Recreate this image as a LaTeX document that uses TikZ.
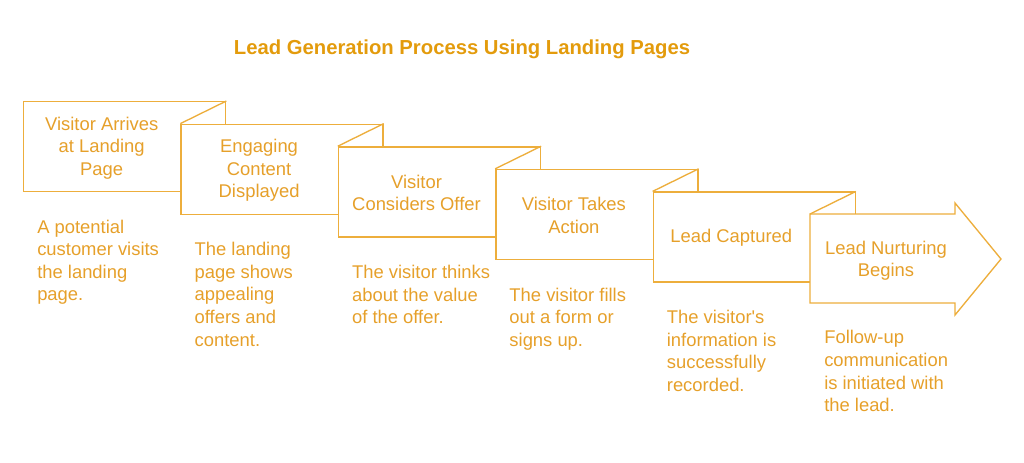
\documentclass[tikz,border=0pt]{standalone}
\usepackage{fontspec}
\setmainfont{Liberation Sans}
\usepackage{tikz}
\usetikzlibrary{positioning}
\definecolor{leadline}{HTML}{EDAE3C}
\definecolor{leadtext}{HTML}{E6A02A}
\definecolor{leadtitle}{HTML}{E39B0C}

\begin{document}
\begin{tikzpicture}[x=0.75pt,y=-0.75pt,
  stepbox/.style={draw=leadline,line width=1pt,fill=white,minimum width=151.5pt,minimum height=67.5pt,inner sep=0pt,anchor=north west},
  boxtext/.style={text=leadtext,align=center,font=\fontsize{13.8}{16.9}\selectfont},
  desctext/.style={text=leadtext,align=left,inner sep=0pt,font=\fontsize{13.8}{16.9}\selectfont}]
\useasboundingbox (0,0) rectangle (1024,462);
\node[text=leadtitle,font=\bfseries\fontsize{15.2}{18}\selectfont] (title) at (462,49) {Lead Generation Process Using Landing Pages};
% the steps
\node[stepbox] (b1) at (23,101) {};
\node[stepbox] (b2) at (180.4,123.6) {};
\node[stepbox] (b3) at (337.8,146.2) {};
\node[stepbox] (b4) at (495.2,168.8) {};
\node[stepbox] (b5) at (652.6,191.4) {};
\coordinate (b6) at (810,214);
\coordinate (b6s) at (810,303);
\draw[leadline,line width=1pt,fill=white](b6)--(955,214)--(955,203)--(1001,259)--(955,315)--(955,303)--(b6s)--cycle;
\foreach \i/\j in {1/2,2/3,3/4,4/5}
  \draw[leadline,line width=1pt](b\i.north east)--(b\j.north west);
\draw[leadline,line width=1pt](b5.north east)--(b6);
% step titles
\node[boxtext] (t1) at (101.7,148) {Visitor Arrives\\at Landing\\Page};
\node[boxtext] (t2) at (259.1,170.6) {Engaging\\Content\\Displayed};
\node[boxtext] (t3) at (416.5,193) {Visitor\\Considers Offer};
\node[boxtext] (t4) at (573.9,215.6) {Visitor Takes\\Action};
\node[boxtext] (t5) at (731.3,238) {Lead Captured};
\node[boxtext] (t6) at (886,260.8) {Lead Nurturing\\Begins};
% descriptions
\node[desctext,below right=20.5pt and 10.5pt of b1.south west] (d1) {A potential\\customer visits\\the landing\\page.};
\node[desctext,below right=20.5pt and 10.5pt of b2.south west] (d2) {The landing\\page shows\\appealing\\offers and\\content.};
\node[desctext,below right=20.5pt and 10.5pt of b3.south west] (d3) {The visitor thinks\\about the value\\of the offer.};
\node[desctext,below right=20.5pt and 10.5pt of b4.south west] (d4) {The visitor fills\\out a form or\\signs up.};
\node[desctext,below right=20.5pt and 10.5pt of b5.south west] (d5) {The visitor\textquotesingle s\\information is\\successfully\\recorded.};
\node[desctext,below right=20.5pt and 10.5pt of b6s] (d6) {Follow-up\\communication\\is initiated with\\the lead.};
\end{tikzpicture}
\end{document}
